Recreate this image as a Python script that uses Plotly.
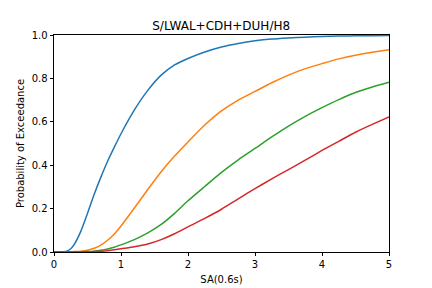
import plotly.graph_objects as go

sa = [0, 0.1, 0.15, 0.2, 0.25, 0.3, 0.4, 0.5, 0.6, 0.7, 0.8, 0.9, 1.0, 1.2, 1.4, 1.6, 1.8, 2.0,
      2.25, 2.5, 2.75, 3.0, 3.25, 3.5, 3.75, 4.0, 4.25, 4.5, 4.75, 5.0]

p_blue = [0, 0, 0.001, 0.005, 0.015, 0.034, 0.095, 0.178, 0.266, 0.345, 0.418, 0.483, 0.545, 0.655,
          0.745, 0.815, 0.862, 0.892, 0.922, 0.945, 0.961, 0.973, 0.981, 0.986, 0.99,
          0.993, 0.995, 0.996, 0.997, 0.998]
p_orange = [0, 0, 0, 0, 0.001, 0.002, 0.004, 0.008, 0.017, 0.032, 0.054, 0.083, 0.12, 0.203,
            0.288, 0.37, 0.442, 0.507, 0.585, 0.65, 0.7, 0.74, 0.78, 0.815, 0.845,
            0.868, 0.89, 0.907, 0.92, 0.932]
p_green = [0, 0, 0, 0, 0, 0, 0.001, 0.002, 0.004, 0.008, 0.014, 0.022, 0.033, 0.057,
           0.088, 0.127, 0.178, 0.236, 0.302, 0.367, 0.425, 0.477, 0.53, 0.58,
           0.625, 0.665, 0.702, 0.735, 0.76, 0.782]
p_red = [0, 0, 0, 0, 0, 0, 0, 0.001, 0.002, 0.003, 0.006, 0.01, 0.015, 0.024, 0.037,
         0.057, 0.084, 0.116, 0.155, 0.197, 0.245, 0.292, 0.337, 0.38, 0.423,
         0.468, 0.51, 0.552, 0.588, 0.622]

series = [(p_blue, "#1f77b4"), (p_orange, "#ff7f0e"), (p_green, "#2ca02c"), (p_red, "#d62728")]

fig = go.Figure()
for ys, c in series:
    fig.add_trace(go.Scatter(x=sa, y=ys, mode="lines",
                             line=dict(color=c, width=1.5, shape="spline", smoothing=0.6),
                             showlegend=False))

axis_common = dict(showline=True, linecolor="black", linewidth=0.8, mirror=True,
                   ticks="outside", ticklen=3.5, tickwidth=0.8, tickcolor="black",
                   showgrid=False, zeroline=False, automargin=False,
                   tickfont=dict(size=10, color="black"))

fig.update_layout(
    width=432, height=288,
    margin=dict(l=54, r=43, t=35, b=36),
    paper_bgcolor="white", plot_bgcolor="white",
    font=dict(family="DejaVu Sans", color="black"),
    title=dict(text="S/LWAL+CDH+DUH/H8", x=0.512, xanchor="center", y=0.912,
               yanchor="middle", font=dict(size=12, color="black")),
    xaxis=dict(range=[0, 5], tickvals=[0, 1, 2, 3, 4, 5],
               title=dict(text="SA(0.6s)", font=dict(size=10), standoff=6),
               **axis_common),
    yaxis=dict(range=[0, 1], tickvals=[0, 0.2, 0.4, 0.6, 0.8, 1.0], tickformat=".1f",
               title=dict(text="Probability of Exceedance", font=dict(size=10), standoff=5),
               **axis_common),
)

fig.write_html("out.html")
